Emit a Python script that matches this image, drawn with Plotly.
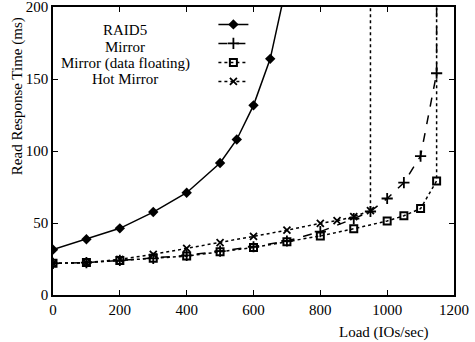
import plotly.graph_objects as go

# Data
raid5_x = [0, 100, 200, 300, 400, 500, 550, 600, 650, 700]
raid5_y = [31.5, 38.7, 46.3, 57.6, 71, 91.7, 108, 131.7, 164, 217]

mirror_x = [0, 100, 200, 300, 400, 500, 600, 700, 800, 900, 950, 1000, 1050, 1100, 1148, 1148]
mirror_y = [22, 22.5, 24, 25.5, 27.5, 30.5, 33.5, 37.5, 44, 53, 58, 67, 78, 96.5, 154, 260]

float_x = [0, 100, 200, 300, 400, 500, 600, 700, 800, 900, 1000, 1050, 1100, 1148, 1148]
float_y = [22, 22.5, 24, 25.5, 27, 30, 33, 37, 41, 46, 51.4, 55, 60, 79.2, 260]

hot_x = [0, 100, 200, 300, 400, 500, 600, 700, 800, 850, 900, 950, 950]
hot_y = [22, 22.4, 24.8, 28.2, 32.4, 36.3, 40.7, 45, 49.8, 51.6, 54.4, 58.6, 260]

legend_names = ["RAID5", "Mirror", "Mirror (data floating)", "Hot Mirror"]
x_ticks = [0, 200, 400, 600, 800, 1000, 1200]
y_ticks = [0, 50, 100, 150, 200]

FONT = "Liberation Serif"

fig = go.Figure()
fig.add_trace(go.Scatter(x=raid5_x, y=raid5_y, mode="lines+markers", name=" ",
                         line=dict(color="black", width=1.5, dash="solid"),
                         marker=dict(symbol="diamond", size=8, color="black")))
fig.add_trace(go.Scatter(x=mirror_x, y=mirror_y, mode="lines+markers", name="  ",
                         line=dict(color="black", width=1.5, dash="dash"),
                         marker=dict(symbol="cross-thin", size=8,
                                     line=dict(color="black", width=1.8))))
fig.add_trace(go.Scatter(x=float_x, y=float_y, mode="lines+markers", name="   ",
                         line=dict(color="black", width=1.5, dash="dot"),
                         marker=dict(symbol="square-open", size=7, color="black",
                                     line=dict(color="black", width=2))))
fig.add_trace(go.Scatter(x=hot_x, y=hot_y, mode="lines+markers", name="    ",
                         line=dict(color="black", width=1.5, dash="dot"),
                         marker=dict(symbol="x-thin", size=7,
                                     line=dict(color="black", width=1.8))))

# Legend labels (text to the left of the samples, as in the reference)
label_y = [184, 172.2, 161, 150]
for name, yy in zip(legend_names, label_y):
    fig.add_annotation(x=216, y=yy, xref="x", yref="y", text=name, showarrow=False,
                       font=dict(family=FONT, size=15, color="black"),
                       xanchor="center", yanchor="middle")

fig.add_annotation(x=-0.09, y=0.69, xref="paper", yref="paper",
                   text="Read Response Time (ms)", textangle=-90, showarrow=False,
                   font=dict(family=FONT, size=15, color="black"),
                   xanchor="center", yanchor="middle")
fig.add_annotation(x=0.825, y=-0.13, xref="paper", yref="paper",
                   text="Load (IOs/sec)", showarrow=False,
                   font=dict(family=FONT, size=15, color="black"),
                   xanchor="center", yanchor="middle")

axis_common = dict(showgrid=False, zeroline=False, showline=True, linecolor="black",
                   linewidth=1.5, mirror="ticks", ticks="inside", ticklen=5,
                   tickcolor="black", tickwidth=1, automargin=False,
                   ticklabeloverflow="allow",
                   tickfont=dict(family=FONT, size=15, color="black"))

fig.update_xaxes(range=[0, 1200], tickvals=x_ticks, **axis_common)
fig.update_yaxes(range=[0, 200], tickvals=y_ticks, **axis_common)

fig.update_layout(
    width=475, height=342,
    margin=dict(l=53, r=21, t=7, b=47),
    paper_bgcolor="white", plot_bgcolor="white",
    showlegend=True,
    legend=dict(x=0.40, y=0.99, xanchor="left", yanchor="top",
                bgcolor="rgba(0,0,0,0)", tracegroupgap=0,
                font=dict(family=FONT, size=10), itemwidth=30),
    font=dict(family=FONT, color="black"),
)

fig.write_html("out.html")
